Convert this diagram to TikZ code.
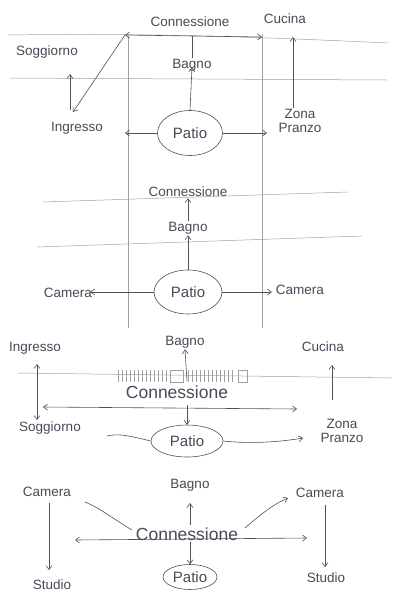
\documentclass[tikz,border=0pt]{standalone}
\usepackage{fontspec}
\setmainfont{Liberation Sans}
\usetikzlibrary{arrows.meta,shapes.geometric}
\definecolor{pencil}{HTML}{505058}
\definecolor{guidec}{HTML}{A0A0A4}
\definecolor{inkc}{HTML}{4A4A58}
\begin{document}
\begin{tikzpicture}[x=1pt,y=-1pt,
  guide/.style={draw=guidec,line width=0.5pt},
  plain/.style={draw=pencil,line width=0.6pt},
  arr/.style={draw=pencil,line width=0.6pt,-{Straight Barb[length=4pt,width=6pt]}},
  dbl/.style={draw=pencil,line width=0.6pt,{Straight Barb[length=4pt,width=6pt]}-{Straight Barb[length=4pt,width=6pt]}},
  lbl/.style={text=inkc,font=\fontsize{13.5}{14}\selectfont,inner sep=1pt},
  biglbl/.style={text=inkc,font=\fontsize{17.5}{18}\selectfont,inner sep=1pt},
  patio/.style={ellipse,draw=pencil,line width=0.6pt,text=inkc,font=\fontsize{15}{16}\selectfont,inner sep=0pt}]
\useasboundingbox (0,0) rectangle (400,606);
\fill[white] (0,0) rectangle (400,606);

% ---------- guide lines ----------
\draw[guide] (8,35) .. controls (150,33) and (260,37) .. (388,43);
\draw[guide] (10,78) -- (387,80);
\draw[guide] (128,36) -- (128,328);
\draw[guide] (262,34) -- (262,328);
\draw[guide] (43,202) -- (348,192);
\draw[guide] (37,247) -- (362,236);
\draw[guide] (18,373) -- (392,378);

% ---------- panel 1 ----------
\node[lbl] (c1) at (190,22) {Connessione};
\node[lbl] (cu1) at (285,19) {Cucina};
\node[lbl] (s1) at (47,52) {Soggiorno};
\node[lbl] (b1) at (192,65) {Bagno};
\node[lbl] (i1) at (77,128) {Ingresso};
\node[patio,minimum width=65,minimum height=45] (p1) at (190,133) {Patio};
\node[lbl,align=center] (z1) at (300,121) {Zona\\Pranzo};
\coordinate (cl1) at (125,35);
\coordinate (cr1) at (262,37);
\coordinate (cb1) at (192,36);
\coordinate (ia1) at (73,112);
\coordinate (sa1) at (70,74);
\coordinate (ib1) at (70,110);
\coordinate (cua1) at (293,37);
\coordinate (za1) at (293,108);
\coordinate (il1) at (125,133);
\coordinate (zl1) at (267,133);
\draw[dbl] (cl1) -- (cr1);
\draw[plain] (b1.north) -- (cb1);
\draw[arr] (p1.north) -- ([yshift=5pt]b1.south);
\draw[arr] (cl1) -- (ia1);
\draw[arr] (ib1) -- (sa1);
\draw[arr] (p1.west) -- (il1);
\draw[arr] (p1.east) -- (zl1);
\draw[arr] (za1) -- (cua1);

% ---------- panel 2 ----------
\node[lbl] (c2) at (188,192) {Connessione};
\node[lbl] (b2) at (188,228) {Bagno};
\node[patio,minimum width=68,minimum height=44] (p2) at (188,292) {Patio};
\node[lbl] (cam2l) at (68,293) {Camera};
\node[lbl] (cam2r) at (300,290) {Camera};
\draw[arr] (b2.north) -- (c2.south);
\draw[arr] (p2.north) -- (b2.south);
\draw[arr] (p2.west) -- ([xshift=-3pt]cam2l.east |- p2.west);
\draw[arr] (p2.east) -- ([xshift=-3pt]cam2r.west |- p2.east);

% ---------- panel 3 ----------
\foreach \x in {118,122,...,166} \draw[guidec,line width=0.5pt] (\x,370) -- (\x,382);
\foreach \x in {188,192,...,234} \draw[guidec,line width=0.5pt] (\x,370) -- (\x,382);
\draw[guidec,line width=0.5pt] (170,370) rectangle (183,382);
\draw[guidec,line width=0.5pt] (238,370) rectangle (247,382);
\node[lbl] (i3) at (35,348) {Ingresso};
\node[lbl] (b3) at (185,342) {Bagno};
\node[lbl] (cu3) at (323,347) {Cucina};
\node[biglbl] (c3) at (177,392) {Connessione};
\node[lbl] (s3) at (50,428) {Soggiorno};
\node[patio,minimum width=72,minimum height=32] (p3) at (187,441) {Patio};
\node[lbl,align=center] (z3) at (342,431) {Zona\\Pranzo};
\coordinate (bw3) at (187,381);
\coordinate (cl3) at (43,407);
\coordinate (cr3) at (297,409);
\coordinate (it3) at (37,364);
\coordinate (sb3) at (37,420);
\coordinate (cd3) at (187,405);
\coordinate (pl3) at (107,436);
\coordinate (zr3) at (303,438);
\coordinate (za3) at (332,400);
\coordinate (cua3) at (332,365);
\draw[arr] (bw3) -- (b3.south);
\draw[dbl] (cl3) -- (cr3);
\draw[dbl] (it3) -- (sb3);
\draw[arr] (cd3) -- (p3.north);
\draw[plain] (p3.west) .. controls (130,436) and (118,433) .. (pl3);
\draw[arr] (p3.east) .. controls (250,444) and (280,442) .. (zr3);
\draw[arr] (za3) -- (cua3);

% ---------- panel 4 ----------
\node[lbl] (cam4l) at (47,492) {Camera};
\node[lbl] (b4) at (190,485) {Bagno};
\node[lbl] (cam4r) at (320,493) {Camera};
\node[biglbl] (c4) at (187,534) {Connessione};
\node[lbl] (st4l) at (52,585) {Studio};
\node[lbl] (st4r) at (326,578) {Studio};
\node[patio,minimum width=54,minimum height=25] (p4) at (190,577) {Patio};
\coordinate (ct4l) at (49,503);
\coordinate (sa4l) at (49,570);
\coordinate (ct4r) at (325,505);
\coordinate (sa4r) at (325,567);
\coordinate (lc4) at (85,502);
\coordinate (lcc4) at (132,530);
\coordinate (rc4) at (245,528);
\coordinate (rca4) at (288,498);
\coordinate (bu4) at (190,525);
\coordinate (bt4) at (190,503);
\coordinate (cl4) at (75,540);
\coordinate (cr4) at (307,538);
\coordinate (pd4) at (190,542);
\draw[arr] (ct4l) -- (sa4l);
\draw[arr] (ct4r) -- (sa4r);
\draw[plain] (lc4) .. controls (100,508) and (115,520) .. (lcc4);
\draw[arr] (rc4) .. controls (260,515) and (272,505) .. (rca4);
\draw[arr] (bu4) -- (bt4);
\draw[dbl] (cl4) -- (cr4);
\draw[arr] (pd4) -- (p4.north);
\end{tikzpicture}
\end{document}
